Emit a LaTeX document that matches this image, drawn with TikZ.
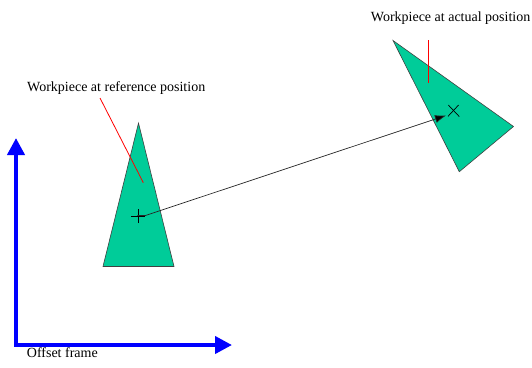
\documentclass[tikz,border=0pt]{standalone}
\usepackage{fontspec}
\setmainfont{Liberation Serif}
\usetikzlibrary{arrows.meta,calc}
\definecolor{wpgreen}{RGB}{0,204,153}
\definecolor{wpblue}{RGB}{0,0,255}
\begin{document}
\begin{tikzpicture}[x=1pt,y=-1pt,
  workpiece/.style={fill=wpgreen,draw=black!75,line width=0.6pt,line join=miter},
  pointer/.style={draw=red,line width=0.8pt},
  label/.style={inner sep=0pt,anchor=base west,font=\fontsize{14}{16}\selectfont},
  axis/.style={draw=wpblue,line width=4pt,-{Triangle[length=17pt,width=17pt]}},
  crossmark/.style={draw=black,line width=0.7pt},
  conn/.style={draw=black!85,line width=0.7pt,-{Latex[length=11pt,width=8pt,fill=black]}}]
\useasboundingbox (0,0) rectangle (532,367);
% offset frame
\coordinate (origin) at (16,345);
\coordinate (ytip) at (16,138);
\coordinate (xtip) at (232,345);
\draw[axis] ([yshift=2pt]origin) -- (ytip);
\draw[axis] ([xshift=-2pt]origin) -- (xtip);
\node[label] (offlab) at (26.7,357.5) {Offset frame};
% reference workpiece
\coordinate (ra) at (138.5,123);
\coordinate (rb) at (103,266.5);
\coordinate (rc) at (174,266.5);
\path[workpiece] (ra) -- (rb) -- (rc) -- cycle;
\coordinate (rcen) at (138.3,216);
\draw[crossmark] ([xshift=-7pt]rcen) -- ([xshift=7pt]rcen);
\draw[crossmark] ([yshift=-7pt]rcen) -- ([yshift=7pt]rcen);
% actual workpiece
\coordinate (aa) at (393,40.5);
\coordinate (ab) at (513.5,126.5);
\coordinate (ac) at (459.3,171.7);
\path[workpiece] (aa) -- (ab) -- (ac) -- cycle;
\coordinate (acen) at (453.8,110.8);
\draw[crossmark] ($(acen)+(-5.5,-5.8)$) -- ($(acen)+(5.5,5.8)$);
\draw[crossmark] ($(acen)+(4.8,-5.8)$) -- ($(acen)+(-5.8,5.5)$);
% connector
\coordinate (cstart) at (145.5,215.5);
\coordinate (ctip) at (446,115.5);
\draw[conn] ([xshift=-1pt]rcen |- cstart) -- (cstart) -- (ctip);
% labels
\node[label] (reflab) at (27,91) {Workpiece at reference position};
\node[label] (actlab) at (370.7,21.3) {Workpiece at actual position};
\coordinate (rp1) at (100,98);
\coordinate (rp2) at (143.3,182.7);
\draw[pointer] (rp1) -- (rp2);
\coordinate (ap1) at (428.7,40);
\coordinate (ap2) at (428.7,82.7);
\draw[pointer] (ap1) -- (ap2);
\end{tikzpicture}
\end{document}
